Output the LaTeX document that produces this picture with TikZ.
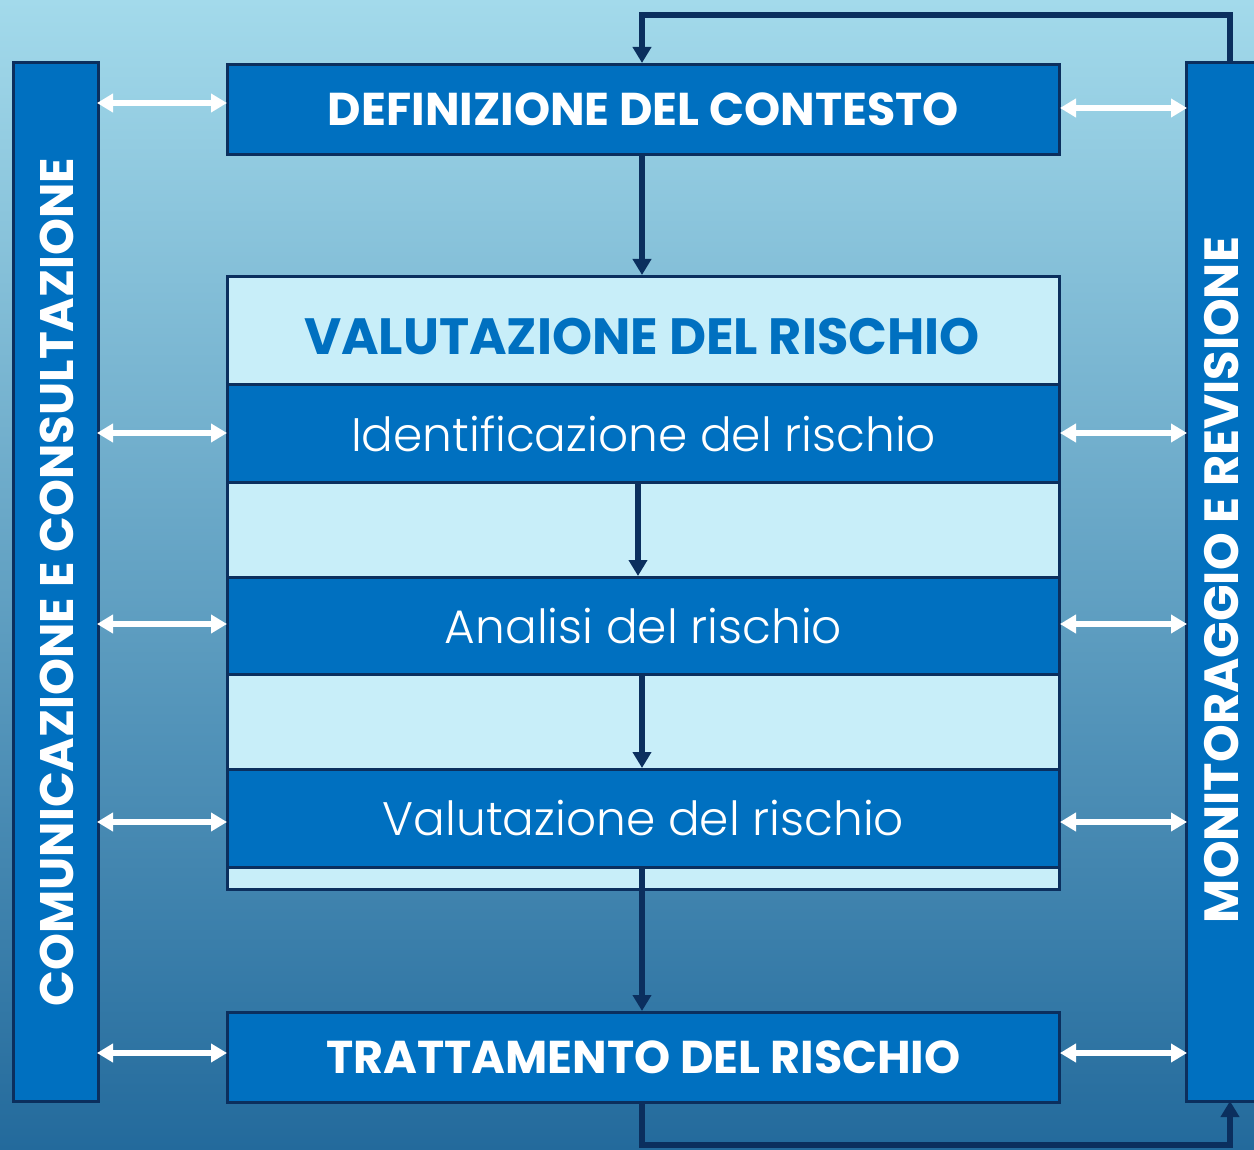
\documentclass[tikz,border=0pt]{standalone}
\usepackage{fontspec}
\setmainfont{Poppins}
\newfontfamily\lightfont{Poppins}[UprightFont={* Light}]
\usetikzlibrary{arrows.meta,calc}
\definecolor{boxblue}{HTML}{0070C0}
\definecolor{lightbox}{HTML}{C8EEF9}
\definecolor{navy}{HTML}{0B2F5E}
\definecolor{bgtop}{HTML}{A3DAEB}
\definecolor{bgbot}{HTML}{236A9C}
\tikzset{
  darkbox/.style={draw=navy, line width=3pt, fill=boxblue, inner sep=0pt},
  lightfill/.style={draw=navy, line width=3pt, fill=lightbox, inner sep=0pt},
  flow/.style={draw=navy, line width=5.5pt, -{Triangle[length=16pt,width=18pt]}},
  dbl/.style={draw=white, line width=5.5pt, {Triangle[length=16pt,width=18pt]}-{Triangle[length=16pt,width=18pt]}, shorten <=-1pt, shorten >=-1pt},
  titletxt/.style={font=\bfseries\fontsize{46}{52}\selectfont, text=white},
  steptxt/.style={font=\lightfont\fontsize{47}{52}\selectfont, text=white},
}
\begin{document}
\begin{tikzpicture}[x=1pt,y=-1pt]
\useasboundingbox (0,0) rectangle (1254,1150);
\shade[top color=bgtop, bottom color=bgbot] (0,0) rectangle (1254,1150);
% side bars
\draw[darkbox] (13,63) rectangle (98,1101);
\node[rotate=90, font=\bfseries\fontsize{47}{52}\selectfont, text=white] (ltxt) at (57,582) {COMUNICAZIONE E CONSULTAZIONE};
\draw[darkbox] (1186,63) rectangle (1262,1101);
\node[rotate=90, font=\bfseries\fontsize{48}{54}\selectfont, text=white] (rtxt) at (1222,580) {MONITORAGGIO E REVISIONE};
% coordinates on bars
\coordinate (rbtop) at (1230,63);
\coordinate (rbbot) at (1230,1101);
% main boxes
\node[darkbox, minimum width=832pt, minimum height=90pt, anchor=north west] (def) at (226,63) {};
\node[titletxt] at (def.center) {DEFINIZIONE DEL CONTESTO};
\node[lightfill, minimum width=832pt, minimum height=613pt, anchor=north west] (val) at (226,275) {};
\node[font=\bfseries\fontsize{51}{56}\selectfont, text=boxblue] (valt) at (642,337) {VALUTAZIONE DEL RISCHIO};
\node[darkbox, minimum width=832pt, minimum height=98pt, anchor=north west] (ide) at (226,383) {};
\node[steptxt] at (ide.center) {Identificazione del rischio};
\node[darkbox, minimum width=832pt, minimum height=97pt, anchor=north west] (ana) at (226,576) {};
\node[steptxt] at (ana.center) {Analisi del rischio};
\node[darkbox, minimum width=832pt, minimum height=98pt, anchor=north west] (vdr) at (226,768) {};
\node[steptxt] at (vdr.center) {Valutazione del rischio};
\node[darkbox, minimum width=832pt, minimum height=90pt, anchor=north west] (tra) at (226,1011) {};
\node[titletxt] at (tra.center) {TRATTAMENTO DEL RISCHIO};
% flow arrows
\draw[flow] (def.south -| 642,0) -- (val.north -| 642,0);
\draw[flow] (ide.south -| 638,0) -- (ana.north -| 638,0);
\draw[flow] (ana.south -| 642,0) -- (vdr.north -| 642,0);
\draw[flow] (vdr.south -| 642,0) -- (tra.north -| 642,0);
% feedback loop
\draw[flow] (tra.south -| 642,0) -- (642,1145) -- (1230,1145) -- (rbbot);
\draw[flow] (rbtop) -- (1230,15) -- (642,15) -- (def.north -| 642,0);
% white double arrows
\foreach \y/\n in {103/def,433/ide,624/ana,822/vdr,1053/tra}{
  \draw[dbl] (98,\y) -- (\n.west |- 0,\y);
}
\foreach \y/\n in {108/def,433/ide,624/ana,822/vdr,1053/tra}{
  \draw[dbl] (\n.east |- 0,\y) -- (1186,\y);
}
\end{tikzpicture}
\end{document}
